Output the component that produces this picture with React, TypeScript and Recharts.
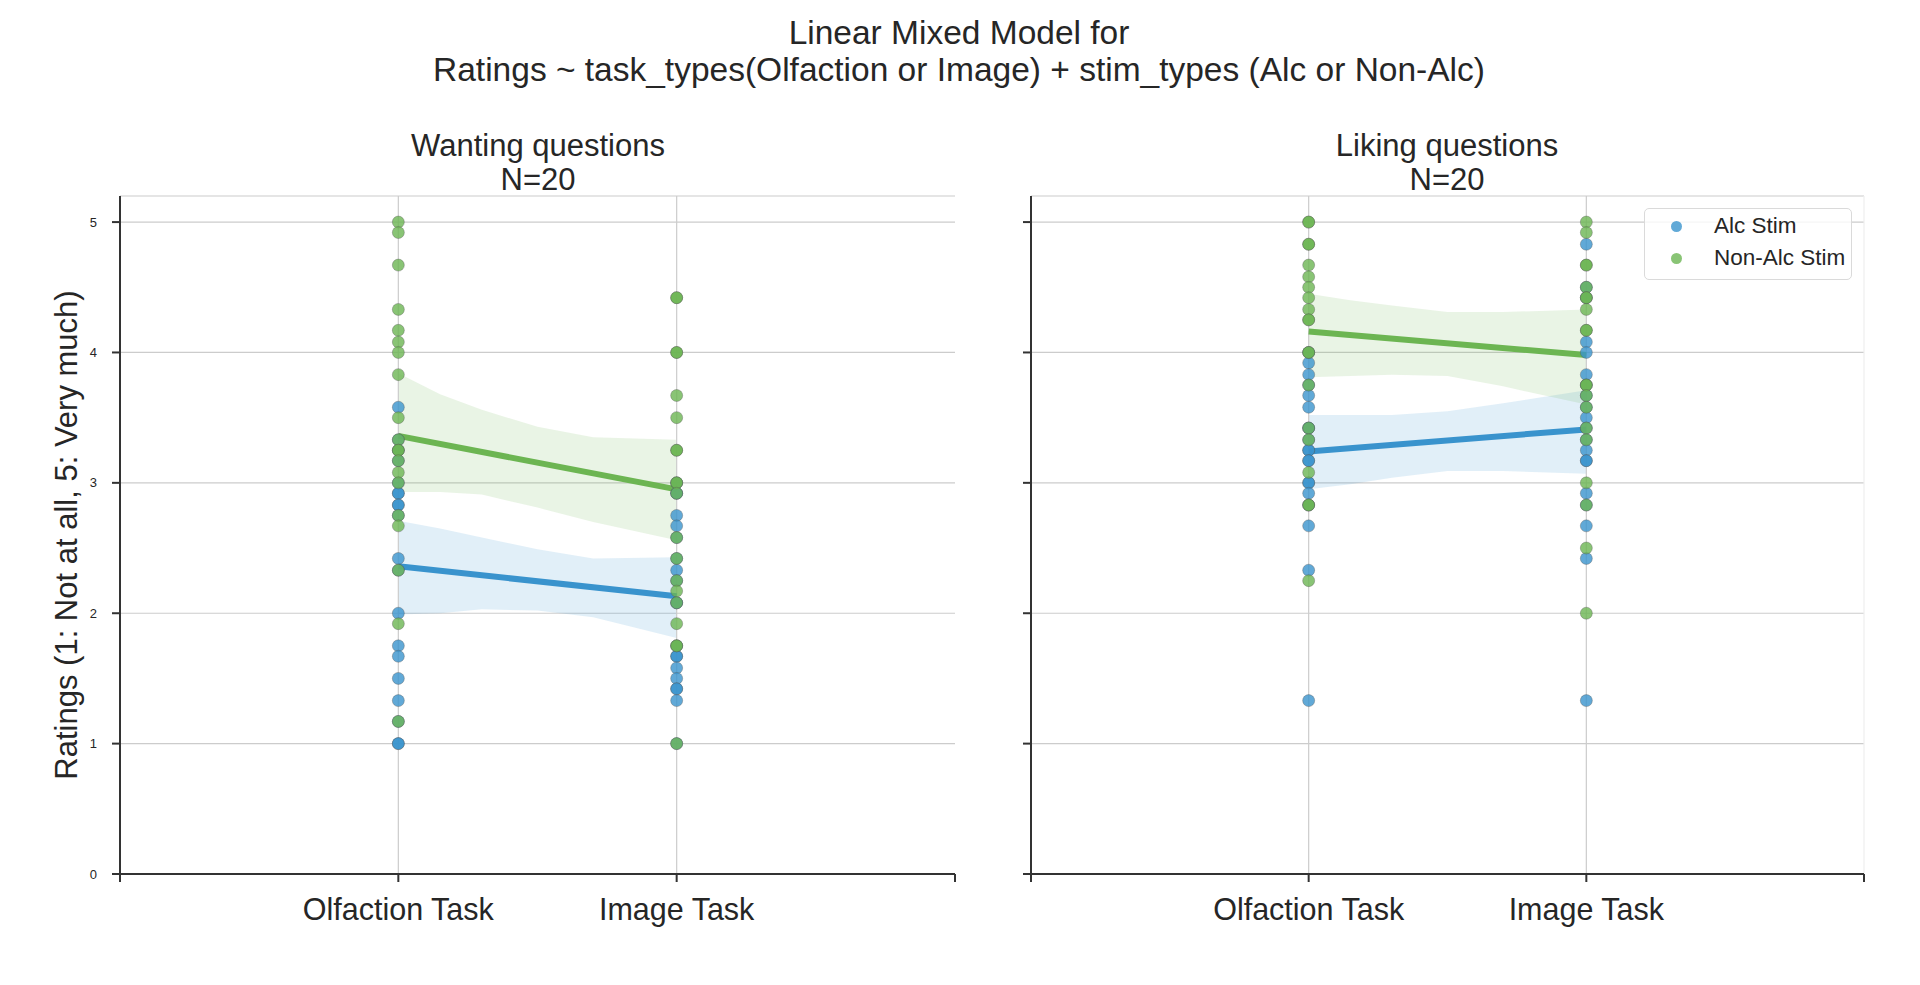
import React from 'react';
import {
  ComposedChart,
  Area,
  Line,
  Scatter,
  XAxis,
  YAxis,
  CartesianGrid,
  ReferenceLine,
} from 'recharts';

// x categories (numeric positions on the regplot axis)
const TASKS = ['Olfaction Task', 'Image Task'];
const TASK_X = [0, 1];
const X_TICKS = [-1, 0, 1, 2];
const Y_TICKS = [0, 1, 2, 3, 4, 5];

// individual subject ratings (N=20 per cell)
const WANT_OLF_ALC = [3.58, 3.33, 3.25, 3.17, 3.0, 2.92, 2.92, 2.83, 2.83, 2.75, 2.42, 2.33, 2.0, 1.75, 1.67, 1.5, 1.33, 1.17, 1.0, 1.0];
const WANT_OLF_NON = [5.0, 4.92, 4.67, 4.33, 4.17, 4.08, 4.0, 3.83, 3.5, 3.33, 3.25, 3.25, 3.17, 3.08, 3.0, 2.75, 2.67, 2.33, 1.92, 1.17];
const WANT_IMG_ALC = [3.0, 2.92, 2.92, 2.75, 2.67, 2.58, 2.42, 2.33, 2.25, 2.08, 2.08, 1.75, 1.67, 1.67, 1.58, 1.5, 1.42, 1.42, 1.33, 1.0];
const WANT_IMG_NON = [4.42, 4.42, 4.0, 4.0, 3.67, 3.5, 3.25, 3.25, 3.0, 3.0, 2.92, 2.58, 2.42, 2.25, 2.17, 2.08, 1.92, 1.75, 1.75, 1.0];

const LIKE_OLF_ALC = [4.0, 3.92, 3.83, 3.75, 3.67, 3.58, 3.42, 3.42, 3.33, 3.25, 3.25, 3.17, 3.17, 3.0, 3.0, 2.92, 2.83, 2.67, 2.33, 1.33];
const LIKE_OLF_NON = [5.0, 5.0, 4.83, 4.83, 4.67, 4.58, 4.5, 4.42, 4.33, 4.25, 4.25, 4.0, 4.0, 3.75, 3.42, 3.33, 3.08, 2.83, 2.83, 2.25];
const LIKE_IMG_ALC = [4.83, 4.5, 4.42, 4.08, 4.0, 3.83, 3.75, 3.67, 3.58, 3.5, 3.42, 3.33, 3.25, 3.17, 3.17, 2.92, 2.83, 2.67, 2.42, 1.33];
const LIKE_IMG_NON = [5.0, 4.92, 4.67, 4.67, 4.5, 4.42, 4.42, 4.33, 4.17, 4.17, 3.75, 3.75, 3.67, 3.58, 3.42, 3.33, 3.0, 2.83, 2.5, 2.0];

// model fit and 95% CI band
const BAND_X = [0, 0.15, 0.3, 0.5, 0.7, 1];
const WANT_ALC_FIT = [2.36, 2.13];
const WANT_NON_FIT = [3.36, 2.95];
const WANT_ALC_LO = [1.99, 2.0, 2.03, 2.02, 1.97, 1.81];
const WANT_ALC_HI = [2.71, 2.65, 2.58, 2.49, 2.42, 2.43];
const WANT_NON_LO = [2.93, 2.93, 2.91, 2.81, 2.7, 2.56];
const WANT_NON_HI = [3.84, 3.68, 3.56, 3.43, 3.35, 3.33];

const LIKE_ALC_FIT = [3.24, 3.41];
const LIKE_NON_FIT = [4.16, 3.98];
const LIKE_ALC_LO = [2.95, 2.99, 3.04, 3.09, 3.09, 3.07];
const LIKE_ALC_HI = [3.52, 3.52, 3.52, 3.55, 3.61, 3.71];
const LIKE_NON_LO = [3.81, 3.82, 3.83, 3.82, 3.74, 3.6];
const LIKE_NON_HI = [4.45, 4.4, 4.36, 4.31, 4.31, 4.33];

const BLUE = '#3993cd';
const GREEN = '#6cb552';
const AXIS = '#333333';
const FONT = '"Liberation Sans", Arial, sans-serif';

const toPoints = (olf: number[], img: number[]) => [
  ...olf.map((y) => ({ x: TASK_X[0], y })),
  ...img.map((y) => ({ x: TASK_X[1], y })),
];

const dot = (color: string) => (p: any) => (
  <circle
    cx={p.cx}
    cy={p.cy}
    r={6}
    fill={color}
    fillOpacity={0.8}
    stroke="#555"
    strokeOpacity={0.45}
    strokeWidth={0.8}
  />
);

interface PanelProps {
  width: number;
  left: number;
  yAxisWidth: number;
  rightMargin: number;
  leftMargin: number;
  showYLabels: boolean;
  olfAlc: number[];
  olfNon: number[];
  imgAlc: number[];
  imgNon: number[];
  alcFit: number[];
  nonFit: number[];
  alcLo: number[];
  alcHi: number[];
  nonLo: number[];
  nonHi: number[];
  edgeLine?: boolean;
}

function Panel(props: PanelProps) {
  const rows = BAND_X.map((x, i) => {
    const k = TASK_X.indexOf(x);
    return {
      x,
      aBand: [props.alcLo[i], props.alcHi[i]],
      nBand: [props.nonLo[i], props.nonHi[i]],
      aFit: k >= 0 ? props.alcFit[k] : null,
      nFit: k >= 0 ? props.nonFit[k] : null,
    };
  });

  return (
    <div style={{ position: 'absolute', left: props.left, top: 0 }}>
      <ComposedChart
        width={props.width}
        height={985}
        data={rows}
        margin={{ top: 196, right: props.rightMargin, bottom: 51, left: props.leftMargin }}
      >
        <CartesianGrid vertical={false} stroke="#cccccc" strokeWidth={1.2} />
        <ReferenceLine x={0} stroke="#cccccc" strokeWidth={1.2} />
        <ReferenceLine x={1} stroke="#cccccc" strokeWidth={1.2} />
        {props.edgeLine && <ReferenceLine x={2} stroke="#eeeeee" strokeWidth={1.2} />}
        <XAxis
          type="number"
          dataKey="x"
          domain={[-1, 2]}
          ticks={X_TICKS}
          interval={0}
          height={60}
          tickSize={8}
          tickMargin={16}
          tickFormatter={(v: number) => TASKS[TASK_X.indexOf(v)] ?? ''}
          axisLine={{ stroke: AXIS, strokeWidth: 2 }}
          tickLine={{ stroke: AXIS, strokeWidth: 2 }}
          tick={{ fontSize: 30.5, fill: '#262626' }}
        />
        <YAxis
          type="number"
          domain={[0, 5.2]}
          ticks={Y_TICKS}
          interval={0}
          width={props.yAxisWidth}
          tickSize={8}
          tickMargin={15}
          tickFormatter={(v: number) => (props.showYLabels ? String(v) : '')}
          axisLine={{ stroke: AXIS, strokeWidth: 2 }}
          tickLine={{ stroke: AXIS, strokeWidth: 2 }}
          tick={{ fontSize: 13, fill: '#262626' }}
        />
        <Scatter
          data={toPoints(props.olfAlc, props.imgAlc)}
          dataKey="y"
          shape={dot(BLUE)}
          isAnimationActive={false}
        />
        <Area
          dataKey="aBand"
          stroke="none"
          fill={BLUE}
          fillOpacity={0.15}
          isAnimationActive={false}
        />
        <Line
          dataKey="aFit"
          stroke={BLUE}
          strokeWidth={6}
          dot={false}
          activeDot={false}
          connectNulls
          isAnimationActive={false}
        />
        <Scatter
          data={toPoints(props.olfNon, props.imgNon)}
          dataKey="y"
          shape={dot(GREEN)}
          isAnimationActive={false}
        />
        <Area
          dataKey="nBand"
          stroke="none"
          fill={GREEN}
          fillOpacity={0.15}
          isAnimationActive={false}
        />
        <Line
          dataKey="nFit"
          stroke={GREEN}
          strokeWidth={6}
          dot={false}
          activeDot={false}
          connectNulls
          isAnimationActive={false}
        />
      </ComposedChart>
    </div>
  );
}

const centered = (x: number, y: number, size: number): React.CSSProperties => ({
  position: 'absolute',
  left: x,
  top: y,
  transform: 'translate(-50%, -50%)',
  fontSize: size,
  whiteSpace: 'nowrap',
  color: '#262626',
  lineHeight: 1,
});

export default function App() {
  return (
    <div
      style={{
        position: 'absolute',
        left: 0,
        top: 0,
        width: 1920,
        height: 985,
        background: '#ffffff',
        fontFamily: FONT,
        overflow: 'hidden',
      }}
    >
      <div style={centered(959, 33, 33.5)}>Linear Mixed Model for</div>
      <div style={centered(959, 70, 33.5)}>
        Ratings ~ task_types(Olfaction or Image) + stim_types (Alc or Non-Alc)
      </div>

      <Panel
        width={975}
        left={0}
        leftMargin={50}
        yAxisWidth={70}
        rightMargin={20}
        showYLabels
        olfAlc={WANT_OLF_ALC}
        olfNon={WANT_OLF_NON}
        imgAlc={WANT_IMG_ALC}
        imgNon={WANT_IMG_NON}
        alcFit={WANT_ALC_FIT}
        nonFit={WANT_NON_FIT}
        alcLo={WANT_ALC_LO}
        alcHi={WANT_ALC_HI}
        nonLo={WANT_NON_LO}
        nonHi={WANT_NON_HI}
      />
      <Panel
        width={945}
        left={975}
        leftMargin={0}
        yAxisWidth={56}
        rightMargin={56}
        showYLabels={false}
        olfAlc={LIKE_OLF_ALC}
        olfNon={LIKE_OLF_NON}
        imgAlc={LIKE_IMG_ALC}
        imgNon={LIKE_IMG_NON}
        alcFit={LIKE_ALC_FIT}
        nonFit={LIKE_NON_FIT}
        alcLo={LIKE_ALC_LO}
        alcHi={LIKE_ALC_HI}
        nonLo={LIKE_NON_LO}
        nonHi={LIKE_NON_HI}
        edgeLine
      />

      <div style={centered(538, 145, 31)}>Wanting questions</div>
      <div style={centered(538, 179, 31)}>N=20</div>
      <div style={centered(1447, 145, 31)}>Liking questions</div>
      <div style={centered(1447, 179, 31)}>N=20</div>

      <div
        style={{
          ...centered(66, 535, 31),
          transform: 'translate(-50%, -50%) rotate(-90deg)',
        }}
      >
        Ratings (1: Not at all, 5: Very much)
      </div>

      <div
        style={{
          position: 'absolute',
          left: 1644,
          top: 208,
          width: 208,
          height: 72,
          border: '1px solid #dadada',
          borderRadius: 5,
          background: 'rgba(255,255,255,0.8)',
          boxSizing: 'border-box',
        }}
      >
        {[
          { label: 'Alc Stim', color: BLUE, y: 17 },
          { label: 'Non-Alc Stim', color: GREEN, y: 49 },
        ].map((item) => (
          <React.Fragment key={item.label}>
            <div
              style={{
                position: 'absolute',
                left: 26,
                top: item.y - 5.5,
                width: 11,
                height: 11,
                borderRadius: 6,
                background: item.color,
                opacity: 0.8,
              }}
            />
            <div
              style={{
                position: 'absolute',
                left: 69,
                top: item.y,
                transform: 'translateY(-50%)',
                fontSize: 22.5,
                lineHeight: 1,
                color: '#262626',
                whiteSpace: 'nowrap',
              }}
            >
              {item.label}
            </div>
          </React.Fragment>
        ))}
      </div>
    </div>
  );
}
